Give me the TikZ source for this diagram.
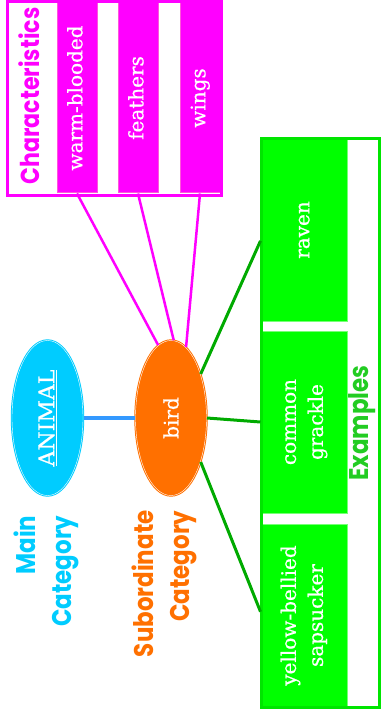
\documentclass[tikz,border=0pt]{standalone}
\usepackage{fontspec}
\setmainfont{DejaVu Serif}
\newfontfamily\cellserif{DejaVu Serif}[FakeBold=0.6]
\newfontfamily\headfont{Poppins}[FakeStretch=0.85]
\usetikzlibrary{shapes.geometric}
\definecolor{charpink}{HTML}{FF00FF}
\definecolor{cellrim}{HTML}{FF55DD}
\definecolor{mainblue}{HTML}{00CCFF}
\definecolor{linkblue}{HTML}{3399FF}
\definecolor{birdorange}{HTML}{FF7000}
\definecolor{exgreen}{HTML}{00FF00}
\definecolor{exrim}{HTML}{77FF77}
\definecolor{linkgreen}{HTML}{00AA00}
\definecolor{extext}{HTML}{22CC22}
\newcommand{\vtext}[1]{\rotatebox{90}{\begin{tabular}{@{}c@{}}#1\end{tabular}}}
\tikzset{
  cellfont/.style={font=\cellserif\fontsize{20}{27}\selectfont},
  headfont/.style={font=\headfont\bfseries\fontsize{27}{36}\selectfont},
  charcell/.style={rectangle, fill=charpink, draw=cellrim, line width=1pt,
    minimum width=40pt, minimum height=190pt, inner sep=0pt, text=white, cellfont},
  excell/.style={rectangle, fill=exgreen, draw=exrim, line width=1pt,
    minimum width=86pt, inner sep=0pt, text=white, cellfont},
  catnode/.style={ellipse, minimum width=71pt, minimum height=155pt,
    inner sep=0pt, text=white, cellfont},
  charline/.style={charpink, line width=2.5pt},
  exline/.style={linkgreen, line width=3pt},
}
\begin{document}
\begin{tikzpicture}[x=1pt,y=-1pt]
    \useasboundingbox (0,0) rectangle (380,719);

    \node[headfont, text=charpink, font=\headfont\bfseries\fontsize{26}{36}\selectfont]
      (charhead) at (29,96) {\rotatebox{90}{Characteristics}};
    \foreach \x/\n/\t in {77/warm/warm-blooded, 138/feath/feathers, 200/wings/wings}{
      \node[charcell] (\n) at (\x,98) {\vtext{\t}};
    }
    \draw[charpink, line width=3pt] (7,1.5) rectangle (221,196);

    \foreach \y/\h/\n/\t in {
        230/182/raven/raven,
        422/182/grackle/common\\grackle,
        615.5/183/sapsucker/yellow-bellied\\sapsucker}{
      \node[excell, minimum height=\h pt] (\n) at (304,\y) {\vtext{\t}};
    }
    \draw[exgreen!90!black, line width=3pt] (261,139) rectangle (379,707);
    \node[headfont, text=extext] (extitle) at (362,423) {\rotatebox{90}{Examples}};

    \node[catnode, fill=mainblue, draw=mainblue, double=white, double distance=0.4pt,
      line width=1pt, font=\cellserif\fontsize{22}{26}\selectfont] (animal) at (47.5,418)
      {\rotatebox{90}{\underline{ANIMAL}}};
    \node[catnode, fill=birdorange, draw=birdorange, double=white, double distance=0.4pt,
      line width=1pt] (bird) at (171,418) {\rotatebox{90}{bird}};

    \node[headfont, text=mainblue, rotate=90, anchor=east, align=right] (maincat)
      at (46,512) {Main\\Category};
    \node[headfont, text=birdorange, rotate=90, anchor=east, align=right] (subcat)
      at (164,507) {Subordinate\\Category};

    \draw[linkblue, line width=3.5pt] (animal.east) -- (bird.west);
    \foreach \a/\n in {100/warm, 88/feath, 78/wings}{
      \draw[charline] (bird.\a) -- (\n.south);
    }
    \draw[exline] (bird.56) -- (raven.194);
    \draw[exline] (bird.east) -- (grackle.west);
    \draw[exline] (bird.-56) -- (sapsucker.175);
  \end{tikzpicture}
\end{document}
